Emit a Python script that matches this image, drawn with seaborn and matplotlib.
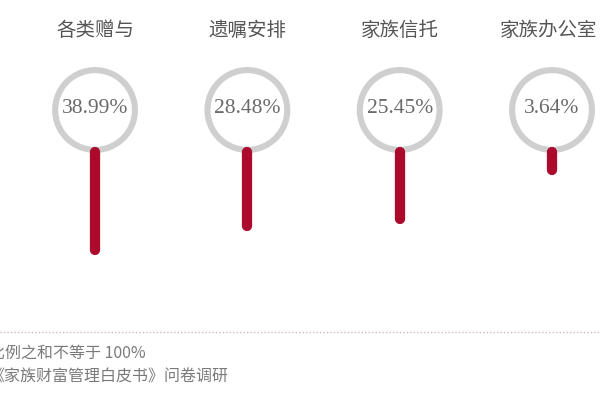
import matplotlib
matplotlib.use('Agg')
import matplotlib.pyplot as plt
import seaborn as sns
from matplotlib.lines import Line2D

# data
categories = ["各类赠与", "遗嘱安排", "家族信托", "家族办公室"]
shares = [38.99, 28.48, 25.45, 3.64]
share_labels = ["38.99%", "28.48%", "25.45%", "3.64%"]
notes = ["比例之和不等于 100%", "《家族财富管理白皮书》问卷调研"]

sns.set_theme(style="white")
plt.rcParams['font.family'] = ['Noto Sans CJK SC', 'DejaVu Sans']

fig = plt.figure(figsize=(6, 4), dpi=100)
ax = fig.add_axes([0, 0, 1, 1])

# layout in value units (y grows downwards)
px_per_unit = 2.26
zero_px = 161.8
ymin = -zero_px / px_per_unit
ymax = (400 - zero_px) / px_per_unit
ring_y = (110 - zero_px) / px_per_unit
title_y = (30 - zero_px) / px_per_unit
bar_start = -4.3

idx = list(range(len(categories)))

# grey rings
sns.scatterplot(x=idx, y=[ring_y] * len(idx), s=3300, marker="o",
                facecolor="none", edgecolor="#cfcfcf", linewidth=4.4,
                ax=ax, zorder=2, legend=False)

# red bars
lc = ax.vlines(idx, [bar_start] * len(idx), shares, colors="#ac0a2d",
               linewidth=7.4, zorder=3)
lc.set_capstyle("round")

for i, (cat, lab) in enumerate(zip(categories, share_labels)):
    # keep the long last title inside the figure
    ha = "right" if i == len(categories) - 1 else "center"
    tx = 3.3 if ha == "right" else i
    ax.text(tx, title_y, cat, ha=ha, va="center", fontsize=14,
            color="#555555")
    ax.text(i, ring_y - 0.6, lab, ha="center", va="center", fontsize=15.5,
            color="#6a6a6a", family=["Liberation Serif", "DejaVu Serif"])

ax.set_xlim(-0.624, 3.315)
ax.set_ylim(ymax, ymin)
ax.axis("off")

# footnote (cut at the left edge, as in the source)
fig.add_artist(Line2D([0, 1], [0.17, 0.17], transform=fig.transFigure,
                      color="#d9b3bf", linewidth=1, linestyle=(0, (1, 1.5))))
fig.text(-0.019, 0.117, notes[0], ha="left", va="center", fontsize=11.5,
         color="#7a7a7a")
fig.text(-0.019, 0.058, notes[1], ha="left", va="center", fontsize=11.5,
         color="#7a7a7a")

fig.savefig("out.png", dpi=100)
